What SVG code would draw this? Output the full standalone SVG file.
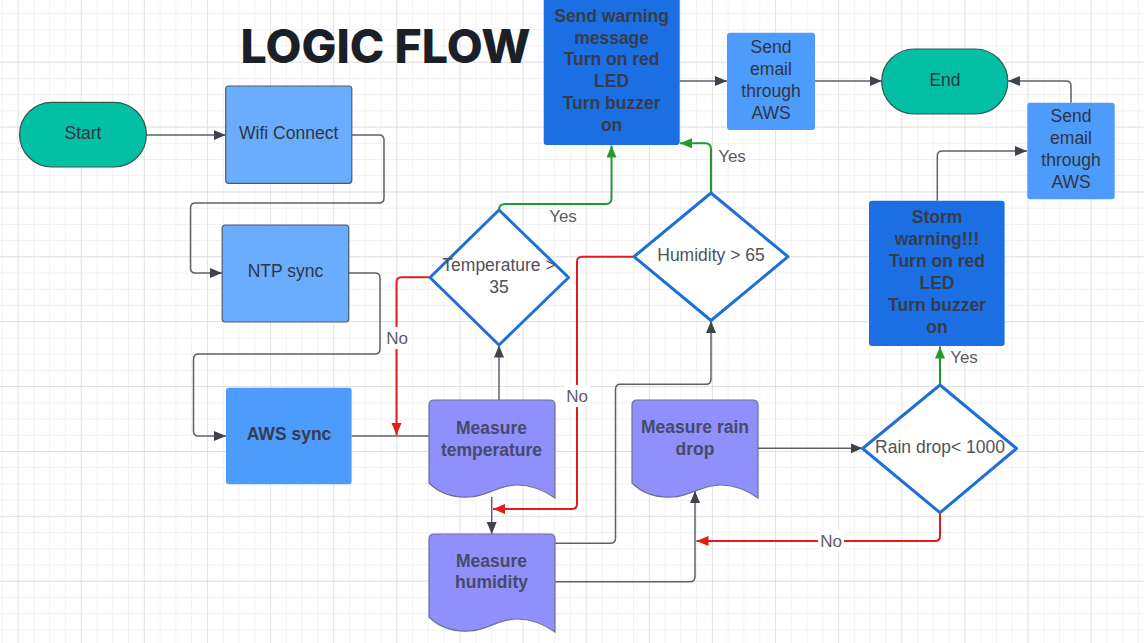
<svg xmlns="http://www.w3.org/2000/svg" width="1144" height="643" viewBox="0 0 1144 643">
<style>
.t{font-family:"Liberation Sans",Arial,sans-serif;font-size:17.5px;text-anchor:middle;fill:#30363f}
.b{font-weight:bold;fill:#363c4b}
.m{fill:#454b68}
.lbl{font-family:"Liberation Sans",Arial,sans-serif;font-size:17px;text-anchor:middle;fill:#5a5d63}
.dt{fill:#4f5257}
.term{fill:#03bfa4;stroke:#2f5953;stroke-width:1.2}
.lb{fill:#6aadfe;stroke:#4b5a70;stroke-width:1.2}
.mb{fill:#4d9bfc}
.db{fill:#1b6fe2}
.doc{fill:#9090fd;stroke:#6c7190;stroke-width:1.2}
.dia{fill:#fff;stroke:#1e70d6;stroke-width:3;stroke-linejoin:round}
.c{fill:none;stroke:#5d6168;stroke-width:1.5}
.r{fill:none;stroke:#e31b1b;stroke-width:2}
.g{fill:none;stroke:#229a2e;stroke-width:2}
</style>
<defs>
<pattern id="minor" patternUnits="userSpaceOnUse" x="1.8" y="13.04" width="15.78" height="16.22">
<path d="M0,0 V16.22 M0,0 H15.78" fill="none" stroke="#ececec" stroke-width="1.2"/>
</pattern>
<pattern id="major" patternUnits="userSpaceOnUse" x="17.6" y="-3.2" width="63.12" height="64.88">
<path d="M0,0 V64.88 M0,0 H63.12" fill="none" stroke="#dadada" stroke-width="1.3"/>
</pattern>
<marker id="ag" markerUnits="userSpaceOnUse" markerWidth="14" markerHeight="12" refX="12" refY="5" orient="auto"><path d="M0,0 L12,5 L0,10 Z" fill="#3e434b"/></marker>
<marker id="ar" markerUnits="userSpaceOnUse" markerWidth="14" markerHeight="12" refX="12" refY="5" orient="auto"><path d="M0,0 L12,5 L0,10 Z" fill="#e31b1b"/></marker>
<marker id="aG" markerUnits="userSpaceOnUse" markerWidth="14" markerHeight="12" refX="12" refY="5" orient="auto"><path d="M0,0 L12,5 L0,10 Z" fill="#229a2e"/></marker>
<path id="docshape" d="M0,5 Q0,0 5,0 H121 Q126,0 126,5 V98 C116,91 104,85 88,85 C70,85 58,96 41,97 C24,98 10,93 0,83 Z"/>
</defs>
<rect width="1144" height="643" fill="#fff"/>
<rect width="1144" height="643" fill="url(#minor)"/>
<rect width="1144" height="643" fill="url(#major)"/>

<text x="385.5" y="62.5" font-family="Inter,'Liberation Sans',sans-serif" font-weight="800" font-size="46" fill="#1b1f27" text-anchor="middle" textLength="290" lengthAdjust="spacingAndGlyphs">LOGIC FLOW</text>

<g id="connectors">
<path class="c" d="M146.4,135 H225.7" marker-end="url(#ag)"/>
<path class="c" d="M352,135 H379 Q384,135 384,140 V198 Q384,203 379,203 H195.5 Q190.5,203 190.5,208 V268 Q190.5,273 195.5,273 H222" marker-end="url(#ag)"/>
<path class="c" d="M348.7,273 H375 Q380,273 380,278 V349 Q380,354 375,354 H198.5 Q193.5,354 193.5,359 V431 Q193.5,436 198.5,436 H226" marker-end="url(#ag)"/>
<path class="c" d="M351.6,436 H429"/>
<path class="c" d="M499,400 V345.5" marker-end="url(#ag)"/>
<path class="c" d="M491.7,497 V534" marker-end="url(#ag)"/>
<path class="c" d="M555,543.3 H610.5 Q615.5,543.3 615.5,538.3 V389.3 Q615.5,384.3 620.5,384.3 H706 Q711,384.3 711,379.3 V321" marker-end="url(#ag)"/>
<path class="c" d="M555,581.7 H690 Q695,581.7 695,576.7 V491" marker-end="url(#ag)"/>
<path class="c" d="M758,448.3 H862.6" marker-end="url(#ag)"/>
<path class="c" d="M679.6,81 H727" marker-end="url(#ag)"/>
<path class="c" d="M815,81 H881.7" marker-end="url(#ag)"/>
<path class="c" d="M1071,102.7 V86 Q1071,81 1066,81 H1008" marker-end="url(#ag)"/>
<path class="c" d="M937.3,200.7 V156 Q937.3,151 942.3,151 H1027" marker-end="url(#ag)"/>
<path class="r" d="M430,277.3 H401.5 Q396.5,277.3 396.5,282.3 V435" marker-end="url(#ar)"/>
<path class="r" d="M634,256.7 H582 Q577,256.7 577,261.7 V504 Q577,509 572,509 H493" marker-end="url(#ar)"/>
<path class="r" d="M940,512.7 V536 Q940,541 935,541 H696.5" marker-end="url(#ar)"/>
<path class="g" d="M499,210 Q499,204 505,204 H606 Q611.5,204 611.5,198.5 V145.5" marker-end="url(#aG)"/>
<path class="g" d="M711,193 V149 Q711,143.3 705,143.3 H680" marker-end="url(#aG)"/>
<path class="g" d="M940,385 V346.5" marker-end="url(#aG)"/>
<rect x="384" y="327" width="26" height="22" fill="#fff"/>
<text class="lbl" x="397" y="344">No</text>
<rect x="564" y="385" width="26" height="22" fill="#fff"/>
<text class="lbl" x="577" y="402">No</text>
<rect x="818" y="530" width="26" height="22" fill="#fff"/>
<text class="lbl" x="831" y="547">No</text>
<text class="lbl" x="563" y="222">Yes</text>
<text class="lbl" x="732" y="162">Yes</text>
<text class="lbl" x="964" y="363">Yes</text>
</g>

<g id="start">
<rect class="term" x="19.6" y="102.3" width="126.8" height="64.7" rx="32.3"/>
<text class="t" x="83" y="139">Start</text>
</g>
<g id="wifi">
<rect class="lb" x="225.7" y="86" width="126.1" height="97.3" rx="3"/>
<text class="t" x="288.7" y="139">Wifi Connect</text>
</g>
<g id="ntp">
<rect class="lb" x="222.2" y="225" width="126.5" height="97" rx="3"/>
<text class="t" x="285.5" y="277">NTP sync</text>
</g>
<g id="aws">
<rect class="mb" x="226" y="387.7" width="125.6" height="96.6" rx="3"/>
<text class="t b" x="289" y="440">AWS sync</text>
</g>
<g id="measure-temp">
<use href="#docshape" class="doc" x="429" y="400"/>
<text class="t b m" x="491.5" y="434">Measure</text>
<text class="t b m" x="491.5" y="455.5">temperature</text>
</g>
<g id="measure-humidity">
<use href="#docshape" class="doc" x="429" y="534"/>
<text class="t b m" x="491.5" y="567">Measure</text>
<text class="t b m" x="491.5" y="588">humidity</text>
</g>
<g id="measure-rain">
<use href="#docshape" class="doc" x="632" y="400"/>
<text class="t b m" x="695" y="433">Measure rain</text>
<text class="t b m" x="695" y="455">drop</text>
</g>
<g id="temp-check">
<path class="dia" d="M499,210 L568.6,277.5 L499,345 L430,277.5 Z"/>
<text class="t dt" x="499" y="271">Temperature &gt;</text>
<text class="t dt" x="499" y="293">35</text>
</g>
<g id="humidity-check">
<path class="dia" d="M711,193 L788,256.7 L711,320.5 L634,256.7 Z"/>
<text class="t dt" x="711" y="261">Humidity &gt; 65</text>
</g>
<g id="rain-check">
<path class="dia" d="M940,385 L1016.5,448.5 L940,512.7 L862.6,448.5 Z"/>
<text class="t dt" x="940" y="453">Rain drop&lt; 1000</text>
</g>
<g id="send-warning">
<rect class="db" x="543.7" y="-4" width="136" height="149" rx="3"/>
<text class="t b" x="611.6" y="22">Send warning</text>
<text class="t b" x="611.6" y="43.5">message</text>
<text class="t b" x="611.6" y="65">Turn on red</text>
<text class="t b" x="611.6" y="87">LED</text>
<text class="t b" x="611.6" y="109">Turn buzzer</text>
<text class="t b" x="611.6" y="131">on</text>
</g>
<g id="send-email-1">
<rect class="mb" x="727" y="32.7" width="88" height="97.3" rx="3"/>
<text class="t" x="771" y="53">Send</text>
<text class="t" x="771" y="75">email</text>
<text class="t" x="771" y="97">through</text>
<text class="t" x="771" y="119">AWS</text>
</g>
<g id="end">
<rect class="term" x="881.7" y="49" width="126.1" height="65" rx="32.5"/>
<text class="t" x="945" y="85.5">End</text>
</g>
<g id="send-email-2">
<rect class="mb" x="1027.3" y="102.7" width="87.4" height="96.6" rx="3"/>
<text class="t" x="1071" y="122">Send</text>
<text class="t" x="1071" y="144">email</text>
<text class="t" x="1071" y="166">through</text>
<text class="t" x="1071" y="188">AWS</text>
</g>
<g id="storm-warning">
<rect class="db" x="869" y="200.7" width="135.6" height="145.3" rx="3"/>
<text class="t b" x="937" y="223">Storm</text>
<text class="t b" x="937" y="245">warning!!!</text>
<text class="t b" x="937" y="267">Turn on red</text>
<text class="t b" x="937" y="289">LED</text>
<text class="t b" x="937" y="310.5">Turn buzzer</text>
<text class="t b" x="937" y="333">on</text>
</g>
</svg>
